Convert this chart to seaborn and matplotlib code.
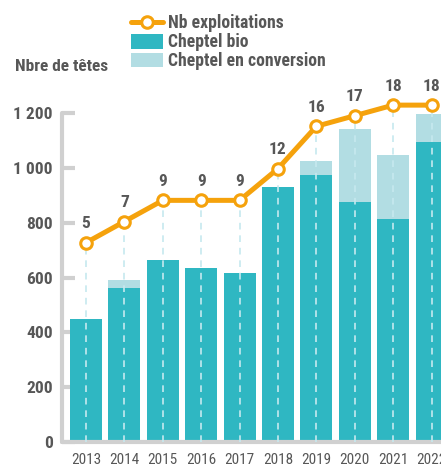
import numpy as np
import pandas as pd
import matplotlib
matplotlib.use("Agg")
import matplotlib.pyplot as plt
import seaborn as sns
from matplotlib.lines import Line2D
from matplotlib.patches import Patch

# ---- data ----
years = ["2013", "2014", "2015", "2016", "2017", "2018", "2019", "2020", "2021", "2022"]
cheptel_bio = [450, 560, 665, 635, 618, 930, 974, 875, 813, 1094]
cheptel_conversion = [0, 30, 0, 0, 0, 0, 51, 266, 234, 103]
nb_exploitations = [5, 7, 9, 9, 9, 12, 16, 17, 18, 18]
y_ticks = [0, 200, 400, 600, 800, 1000, 1200]
y_tick_labels = ["0", "200", "400", "600", "800", "1 000", "1 200"]

TEAL = "#2fb7c2"
LIGHT = "#b2dde3"
ORANGE = "#f5a20c"
GREY_TXT = "#575757"
GREY_AX = "#d0d0d0"
DASH = "#c6e9ef"

sns.set_style("white")
plt.rcParams["font.family"] = ["Roboto Condensed", "Roboto", "DejaVu Sans"]

df = pd.DataFrame({"annee": years, "bio": cheptel_bio, "conv": cheptel_conversion})
df["total"] = df["bio"] + df["conv"]

W, H = 441, 467
fig = plt.figure(figsize=(W / 100, H / 100), dpi=100)
ax = fig.add_axes([62 / W, 25 / H, (454.6 - 62) / W, 356.4 / H])

sns.barplot(data=df, x="annee", y="total", color=LIGHT, saturation=1, width=0.83,
            ax=ax, zorder=1, linewidth=0)
sns.barplot(data=df, x="annee", y="bio", color=TEAL, saturation=1, width=0.83,
            ax=ax, zorder=2, linewidth=0)

ax.set_xlim(-0.625, 9.6)
ax.set_ylim(0, 1300)
ax.set_xlabel("")
ax.set_ylabel("")
ax.set_yticks(y_ticks)
ax.set_yticklabels(y_tick_labels)
for lab in ax.get_yticklabels():
    lab.set_fontweight("bold")
ax.tick_params(axis="y", direction="in", length=9.5, width=3, color=GREY_AX,
               labelsize=12.5, labelcolor=GREY_TXT, pad=6.5, left=True)
ax.tick_params(axis="x", length=0, labelsize=11, labelcolor=GREY_TXT, pad=8)
for s in ["top", "right"]:
    ax.spines[s].set_visible(False)
for s in ["left", "bottom"]:
    ax.spines[s].set_color(GREY_AX)
    ax.spines[s].set_linewidth(3)
    ax.spines[s].set_capstyle("round")
ax.spines["left"].set_bounds(0, 1200)

# line on secondary axis
ax2 = ax.twinx()
ax2.set_zorder(ax.get_zorder() + 1)
ax2.patch.set_visible(False)
y2_bottom = -534 / 38.6
y2_top = (1300 - 534) / 38.6
ax2.set_ylim(y2_bottom, y2_top)
xpos = np.arange(len(years))
ax2.vlines(xpos, y2_bottom, nb_exploitations, colors=DASH, linewidth=1.2,
           linestyles=(0, (4, 3.5)), zorder=1)
sns.lineplot(x=xpos, y=nb_exploitations, ax=ax2, color=ORANGE, linewidth=3.6,
             marker="o", markersize=8.3, markerfacecolor="white",
             markeredgecolor=ORANGE, markeredgewidth=2.2, zorder=3)
for xi, v in zip(xpos, nb_exploitations):
    ax2.annotate(str(v), (xi, v), xytext=(0, 13.5), textcoords="offset points",
                 ha="center", va="center", fontsize=12.5, fontweight="bold",
                 color=GREY_TXT, zorder=4)
ax2.set_xlim(-0.625, 9.6)
ax2.set_yticks([])
ax2.set_ylabel("")
for s in ax2.spines.values():
    s.set_visible(False)

# y-axis title
fig.text(15 / W, 1 - 66.5 / H, "Nbre de têtes", ha="left", va="center",
         fontsize=12.5, fontweight="bold", color=GREY_TXT)

# legend
handles = [
    Line2D([0], [0], color=ORANGE, linewidth=3.6, marker="o", markersize=8.3,
           markerfacecolor="white", markeredgecolor=ORANGE, markeredgewidth=2.2),
    Patch(facecolor=TEAL, edgecolor="none"),
    Patch(facecolor=LIGHT, edgecolor="none"),
]
labels = ["Nb exploitations", "Cheptel bio", "Cheptel en conversion"]
leg = fig.legend(handles, labels, loc="upper left", bbox_to_anchor=(131 / W, 1 - 14.5 / H),
                 frameon=False, fontsize=12.7, handlelength=1.8, handleheight=0.9,
                 handletextpad=0.3, labelspacing=0.05, borderpad=0, borderaxespad=0)
for t in leg.get_texts():
    t.set_fontweight("bold")
    t.set_color(GREY_TXT)

fig.savefig("out.png", dpi=100)
